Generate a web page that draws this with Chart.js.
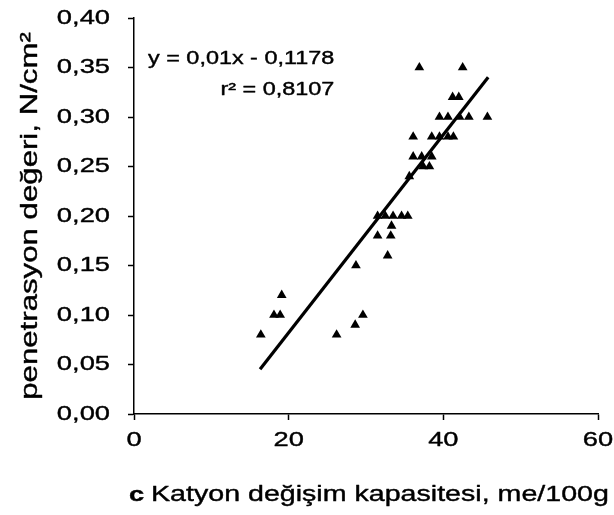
<!DOCTYPE html>
<html>
<head>
<meta charset="utf-8">
<script src="https://cdn.jsdelivr.net/npm/chart.js@4.4.1/dist/chart.umd.min.js"></script>
<style>
  html, body { margin: 0; padding: 0; background: #fff; }
  #wrap { width: 614px; height: 515px; }
</style>
</head>
<body>
<div id="wrap"><canvas id="c" width="614" height="515"></canvas></div>
<script>
// Cation exchange capacity (me/100g) vs. penetration value (N/cm2)
const cecValues = [
  16.4, 26.2,
  28.6,
  18.1, 18.9, 29.6,
  19.1,
  28.7,
  32.8,
  31.5, 33.2,
  33.3,
  31.5, 32.5, 33.5, 34.6, 35.4,
  35.6,
  37.4, 38.2,
  36.1, 37.2, 38.5,
  36.1, 38.5, 39.5, 40.6, 41.3,
  39.5, 40.6, 42.1, 43.3, 45.7,
  41.2, 42.0,
  36.9, 42.5
];
const penetrationValues = [
  0.08, 0.08,
  0.09,
  0.10, 0.10, 0.10,
  0.12,
  0.15,
  0.16,
  0.18, 0.18,
  0.19,
  0.20, 0.20, 0.20, 0.20, 0.20,
  0.24,
  0.25, 0.25,
  0.26, 0.26, 0.26,
  0.28, 0.28, 0.28, 0.28, 0.28,
  0.30, 0.30, 0.30, 0.30, 0.30,
  0.32, 0.32,
  0.35, 0.35
];

// Linear fit shown on the chart
const fitSlope = 0.01;
const fitIntercept = -0.1178;
const fitR2 = 0.8107;
const fitXRange = [16.3, 45.8];

const xTickValues = [0, 20, 40, 60];
const yTickValues = [0, 0.05, 0.10, 0.15, 0.20, 0.25, 0.30, 0.35, 0.40];

const xTitleBold = 'c';
const xTitleText = 'Katyon değişim kapasitesi, me/100g';
const yTitleText = 'penetrasyon değeri, N/cm²';

const decimalComma = (v, d) => v.toFixed(d).replace('.', ',');

const canvas = document.getElementById('c');
const ctx = canvas.getContext('2d');

// The typeface used here is a heavy, horizontally extended sans:
// stretch glyphs along the baseline and give them a light outline.
const TEXT_STRETCH = 1.3;
const TEXT_WEIGHT = 0.4;
const nativeFill = ctx.fillText;
const nativeStroke = ctx.strokeText;
const nativeMeasure = ctx.measureText;
ctx.fillText = function (text, x, y) {
  this.save();
  this.translate(x, y);
  this.scale(TEXT_STRETCH, 1);
  nativeFill.call(this, text, 0, 0);
  this.strokeStyle = this.fillStyle;
  this.lineWidth = TEXT_WEIGHT;
  this.lineJoin = 'round';
  nativeStroke.call(this, text, 0, 0);
  this.restore();
};
ctx.measureText = function (text) {
  const m = nativeMeasure.call(this, text);
  return {
    width: m.width * TEXT_STRETCH,
    actualBoundingBoxAscent: m.actualBoundingBoxAscent,
    actualBoundingBoxDescent: m.actualBoundingBoxDescent,
    actualBoundingBoxLeft: m.actualBoundingBoxLeft * TEXT_STRETCH,
    actualBoundingBoxRight: m.actualBoundingBoxRight * TEXT_STRETCH
  };
};

const FONT = '"Liberation Sans", Arial, sans-serif';

const scatterPoints = cecValues.map((x, i) => ({ x, y: penetrationValues[i] }));
const fitPoints = fitXRange.map(x => ({ x, y: fitSlope * x + fitIntercept }));

const annotations = {
  id: 'annotations',
  afterDraw(chart) {
    const c = chart.ctx;
    const xs = chart.scales.x;
    c.save();
    c.fillStyle = '#000';
    c.textBaseline = 'alphabetic';

    // regression equation
    c.font = '18px ' + FONT;
    const sign = fitIntercept < 0 ? ' - ' : ' + ';
    const eq = 'y = ' + decimalComma(fitSlope, 2) + 'x' + sign + decimalComma(Math.abs(fitIntercept), 4);
    c.textAlign = 'left';
    c.fillText(eq, xs.left + 14, 64);
    c.textAlign = 'right';
    const eqRight = xs.left + 14 + c.measureText(eq).width;
    c.fillText('r² = ' + decimalComma(fitR2, 4), eqRight, 95);

    // x-axis title
    c.textAlign = 'left';
    c.font = 'bold 21px ' + FONT;
    c.fillText(xTitleBold, xs.left - 5, 501);
    c.font = '22px ' + FONT;
    c.fillText(xTitleText, xs.left + 17, 501);
    c.restore();
  }
};

new Chart(ctx, {
  data: {
    datasets: [
      {
        type: 'scatter',
        data: scatterPoints,
        pointStyle: 'triangle',
        pointRadius: 5.6,
        backgroundColor: '#000',
        borderColor: '#000',
        borderWidth: 0
      },
      {
        type: 'line',
        data: fitPoints,
        borderColor: '#000',
        borderWidth: 3.2,
        pointRadius: 0,
        fill: false
      }
    ]
  },
  options: {
    responsive: false,
    animation: false,
    events: [],
    layout: { padding: { top: 18, right: 16, bottom: 0, left: 16 } },
    plugins: { legend: { display: false }, tooltip: { enabled: false } },
    scales: {
      x: {
        type: 'linear',
        min: 0,
        max: 60,
        afterBuildTicks: s => { s.ticks = xTickValues.map(v => ({ value: v })); },
        afterFit: s => { s.height = 101; s.paddingLeft = 0; s.paddingRight = 0; },
        ticks: {
          color: '#000',
          font: { family: FONT, size: 21 },
          padding: 8,
          callback: v => String(v)
        },
        grid: { drawOnChartArea: false, drawTicks: true, tickLength: 6, color: '#000', tickWidth: 1.5 },
        border: { color: '#000', width: 1.5 }
      },
      y: {
        type: 'linear',
        min: 0,
        max: 0.4,
        afterBuildTicks: s => { s.ticks = yTickValues.map(v => ({ value: v })); },
        afterFit: s => { s.width = 118; s.paddingTop = 0; s.paddingBottom = 0; },
        ticks: {
          color: '#000',
          font: { family: FONT, size: 21 },
          padding: 18,
          callback: v => decimalComma(v, 2)
        },
        title: {
          display: true,
          text: yTitleText,
          color: '#000',
          font: { family: FONT, size: 24 },
          padding: { top: 0, bottom: 2 }
        },
        grid: { drawOnChartArea: false, drawTicks: true, tickLength: 6, color: '#000', tickWidth: 1.5 },
        border: { color: '#000', width: 1.5 }
      }
    }
  },
  plugins: [annotations]
});
</script>
</body>
</html>
